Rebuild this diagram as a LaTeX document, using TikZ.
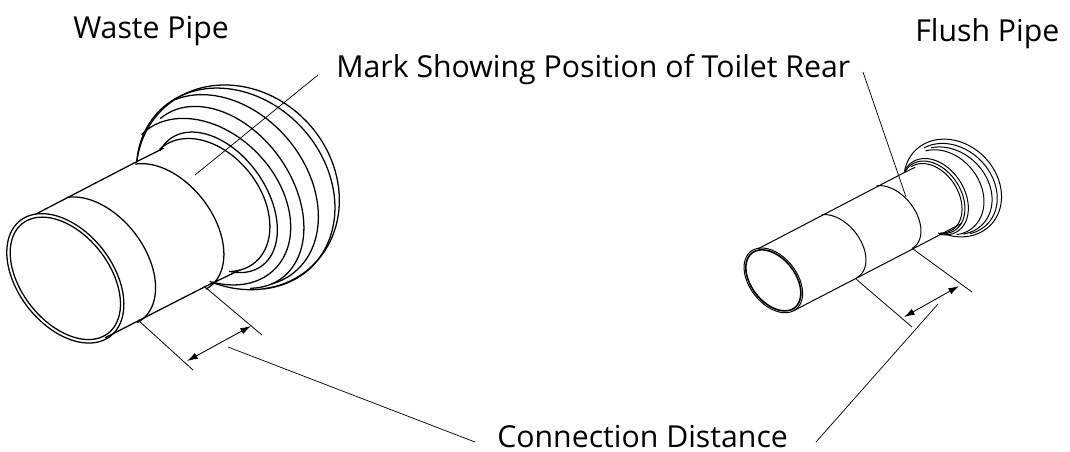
\documentclass[tikz,border=0pt]{standalone}
\usepackage{fontspec}
\setmainfont{Open Sans}
\usetikzlibrary{arrows.meta}
\tikzset{
  ln/.style={line width=0.95pt,black,line join=round,line cap=round},
  fine/.style={line width=0.75pt,black,line join=round,line cap=round},
  thick ring/.style={line width=1.2pt,black},
  extline/.style={line width=0.6pt,black},
  leader/.style={line width=0.55pt,black},
  dim/.style={line width=0.65pt,black,{Latex[length=8pt,width=5pt]}-{Latex[length=8pt,width=5pt]}},
  lab/.style={font=\fontsize{22.7pt}{26pt}\selectfont,inner sep=0pt,anchor=base west}
}
% [style]{cx}{cy}{a}{b}{theta}{t0}{t1}, y-down units of the scope
\newcommand{\earc}[8][ln]{\draw[#1] plot[domain=#7:#8,samples=90] ({#2+#4*cos(\x)*cos(#6)-#5*sin(\x)*sin(#6)},{#3+#4*cos(\x)*sin(#6)+#5*sin(\x)*cos(#6)});}
\begin{document}
\begin{tikzpicture}[x=0.75pt,y=-0.75pt]
\useasboundingbox (0,0) rectangle (1070,451);
% waste pipe
\begin{scope}[shift={(0,70)},x=0.25pt,y=-0.25pt]
\earc{196}{625}{220}{142}{52}{0}{360}
\earc{196}{625}{209}{132}{52}{0}{360}
\earc{291}{575}{220}{142}{52}{-160}{6.5}
\earc{496}{475}{220}{142}{52}{-160}{6.5}
\coordinate (wt0) at (106,433); \coordinate (wt1) at (410,275); \coordinate (wt2) at (490,235);
\coordinate (wb0) at (316,803); \coordinate (wb1) at (615,650); \coordinate (wb2) at (720,600);
\draw[ln] (wt0) -- (wt1) -- (wt2) (wb0) -- (wb1) -- (wb2);
\earc{713}{352}{325}{286}{46.5}{144}{423}
\earc{707}{356}{327}{270}{47}{143}{392}
\earc{680}{362}{318}{240}{49.8}{194}{379}
\earc{667}{382}{301}{209}{54}{177}{386}
\earc{625}{395}{284}{207}{46}{179}{410}
\earc{648}{397}{235}{152}{54.6}{162}{393}
\earc{625}{405}{222}{157}{51.7}{176}{388}
\end{scope}
% flush pipe
\begin{scope}[shift={(730,90)},x=0.25pt,y=-0.25pt]
\earc[fine]{130}{571}{110}{71}{52}{0}{360}
\earc[thick ring]{130}{571}{104}{66}{52}{0}{360}
\earc[fine]{320}{471}{110}{71}{52}{-160}{6.5}
\earc[fine]{485}{384}{110}{71}{52}{-160}{6.5}
\coordinate (ft0) at (85,476); \coordinate (ft1) at (522,248); \coordinate (ft2) at (555,232);
\coordinate (fb0) at (191,662); \coordinate (fb1) at (548,477); \coordinate (fb2) at (695,400);
\draw[fine] (ft0) -- (ft1) -- (ft2) (fb0) -- (fb1) -- (fb2);
\earc[fine]{668}{294}{159}{133}{45}{150}{423}
\earc[fine]{665}{297}{150}{122}{45}{194}{387}
\earc[fine]{655}{302}{144}{117}{45}{208}{391}
\earc[fine]{640}{307}{138}{110}{51}{200}{386}
\earc[fine]{615}{320}{124}{88}{57}{158}{394}
\earc[fine]{610}{322}{118}{83}{57}{160}{394}
\earc[fine]{605}{325}{113}{80}{57}{180}{386}
\end{scope}
% waste dims
\coordinate (wa) at (138,320); \coordinate (wb) at (193,370);
\coordinate (wc) at (205,287); \coordinate (wd) at (262,335);
\draw[extline] (wa) -- (wb) (wc) -- (wd);
\coordinate (wp) at (187,361); \coordinate (wq) at (251,326);
\draw[dim] (wp) -- (wq);
% flush dims
\coordinate (fa) at (856,279); \coordinate (fb) at (912,327);
\coordinate (fc) at (913,249); \coordinate (fd) at (972,292);
\draw[extline] (fa) -- (fb) (fc) -- (fd);
\coordinate (fp) at (904,317); \coordinate (fq) at (959,286);
\draw[dim] (fp) -- (fq);
% text
\node[lab] (t1) at (73,38) {Waste Pipe};
\node[lab] (t2) at (915,41) {Flush Pipe};
\node[lab] (t3) at (336,77) {Mark Showing Position of Toilet Rear};
\node[lab] (t4) at (497,447) {Connection Distance};
% leaders
\coordinate (m1) at (318,75); \coordinate (m2) at (195,175);
\draw[leader] (m1) -- (m2);
\coordinate (m3) at (863,72); \coordinate (m4) at (906,197);
\draw[leader] (m3) -- (m4);
\coordinate (c1) at (228,347); \coordinate (c2) at (475,442);
\draw[leader] (c1) -- (c2);
\coordinate (c3) at (938,304); \coordinate (c4) at (816,442);
\draw[leader] (c3) -- (c4);
\end{tikzpicture}
\end{document}
